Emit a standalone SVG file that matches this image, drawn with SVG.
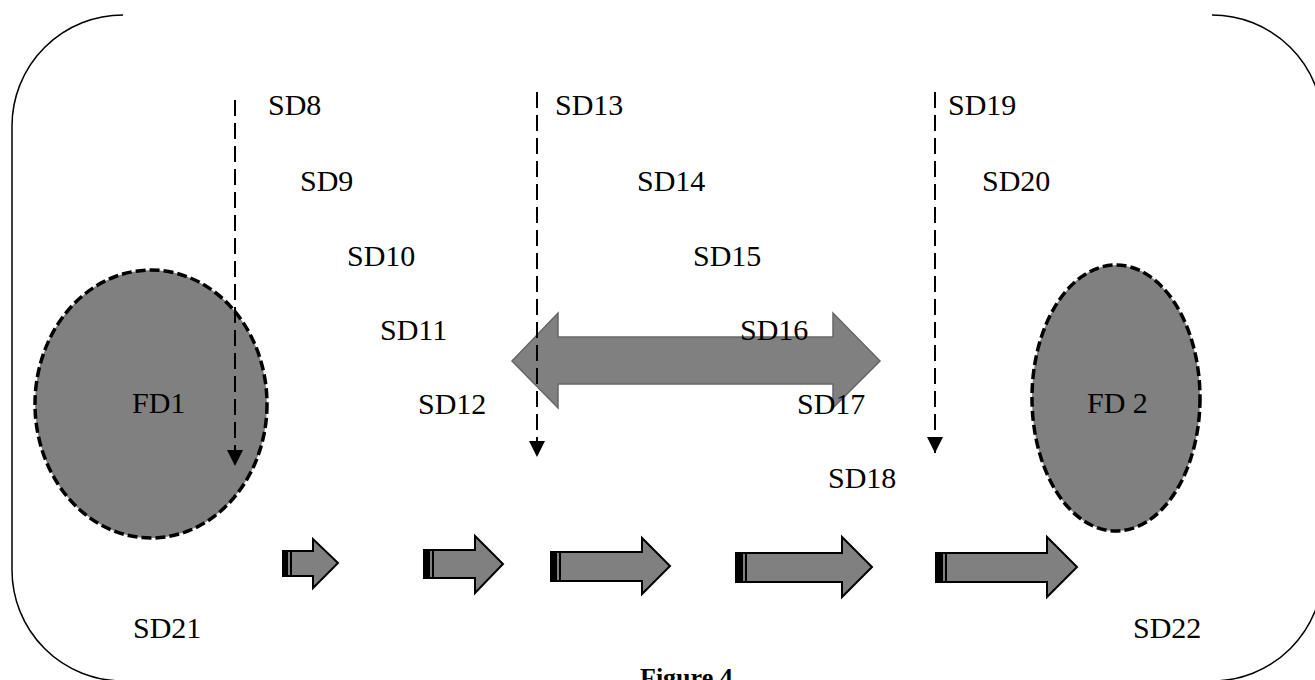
<svg xmlns="http://www.w3.org/2000/svg" width="1315" height="680" viewBox="0 0 1315 680">
<defs>
<style>
.t{font-family:"Liberation Serif","Times New Roman",serif;font-size:30px;fill:#000}
.fd{fill:#808080;stroke:#000;stroke-width:3.5;stroke-dasharray:10 4}
.dash{stroke:#000;stroke-width:2;stroke-dasharray:16 7;fill:none}
.blk{fill:#808080;stroke:#000;stroke-width:2;stroke-linejoin:miter}
.dbl{fill:#808080;stroke:#666;stroke-width:1.5}
.frame{fill:none;stroke:#000;stroke-width:1.5}
</style>
<marker id="ah" markerWidth="16" markerHeight="16" refX="16" refY="8" viewBox="0 0 16 16" markerUnits="userSpaceOnUse" orient="auto">
<path d="M0,0 L16,8 L0,16 Z" fill="#000"/>
</marker>
</defs>
<rect width="1315" height="680" fill="#fff"/>
<g id="frame">
<path class="frame" d="M123,15 A111,111 0 0 0 12,126 L12,570 A111,111 0 0 0 123,681"/>
<path class="frame" d="M1212,15 A111,111 0 0 1 1323,126 L1323,570 A111,111 0 0 1 1212,681"/>
</g>
<g id="FD1">
<ellipse class="fd" cx="151" cy="404" rx="116" ry="134"/>
<text class="t" x="132" y="413">FD1</text>
</g>
<g id="FD2">
<ellipse class="fd" cx="1116" cy="398" rx="84" ry="133"/>
<text class="t" x="1087" y="413">FD 2</text>
</g>
<g id="doubleArrow">
<polygon class="dbl" points="512,361 558,313 558,337 833,337 833,313 880,361 833,408 833,384 558,384 558,408"/>
</g>
<g id="labels">
<text class="t" x="268" y="115">SD8</text>
<text class="t" x="300" y="191">SD9</text>
<text class="t" x="347" y="266">SD10</text>
<text class="t" x="380" y="340">SD11</text>
<text class="t" x="418" y="414">SD12</text>
<text class="t" x="555" y="115">SD13</text>
<text class="t" x="637" y="191">SD14</text>
<text class="t" x="693" y="266">SD15</text>
<text class="t" x="740" y="340">SD16</text>
<text class="t" x="797" y="414">SD17</text>
<text class="t" x="828" y="488">SD18</text>
<text class="t" x="948" y="115">SD19</text>
<text class="t" x="982" y="191">SD20</text>
<text class="t" x="133" y="638">SD21</text>
<text class="t" x="1133" y="638">SD22</text>
<text x="640" y="686" style="font-family:'Liberation Serif','Times New Roman',serif;font-size:26px;font-weight:bold">Figure 4</text>
</g>
<g id="connectors">
<line class="dash" x1="235" y1="100" x2="235" y2="466" marker-end="url(#ah)"/>
<line class="dash" x1="537" y1="92" x2="537" y2="457" marker-end="url(#ah)"/>
<line class="dash" x1="935" y1="92" x2="935" y2="453" marker-end="url(#ah)"/>
</g>
<g id="blockArrows">
<polygon class="blk" points="283,551 313,551 313,539 338,563 313,588 313,576 283,576"/>
<rect x="283" y="551" width="5" height="25" fill="#000"/><rect x="290" y="551" width="2" height="25" fill="#000"/>
<polygon class="blk" points="424,550 475,550 475,536 503,564 475,593 475,578 424,578"/>
<rect x="424" y="550" width="6" height="28" fill="#000"/><rect x="432" y="550" width="2" height="28" fill="#000"/>
<polygon class="blk" points="551,552 642,552 642,538 670,566 642,594 642,581 551,581"/>
<rect x="551" y="552" width="6" height="29" fill="#000"/><rect x="559" y="552" width="2" height="29" fill="#000"/>
<polygon class="blk" points="736,553 842,553 842,537 872,567 842,597 842,582 736,582"/>
<rect x="736" y="553" width="7" height="29" fill="#000"/><rect x="745" y="553" width="2" height="29" fill="#000"/>
<polygon class="blk" points="936,553 1047,553 1047,537 1077,567 1047,597 1047,582 936,582"/>
<rect x="936" y="553" width="7" height="29" fill="#000"/><rect x="945" y="553" width="2" height="29" fill="#000"/>
</g>
</svg>
